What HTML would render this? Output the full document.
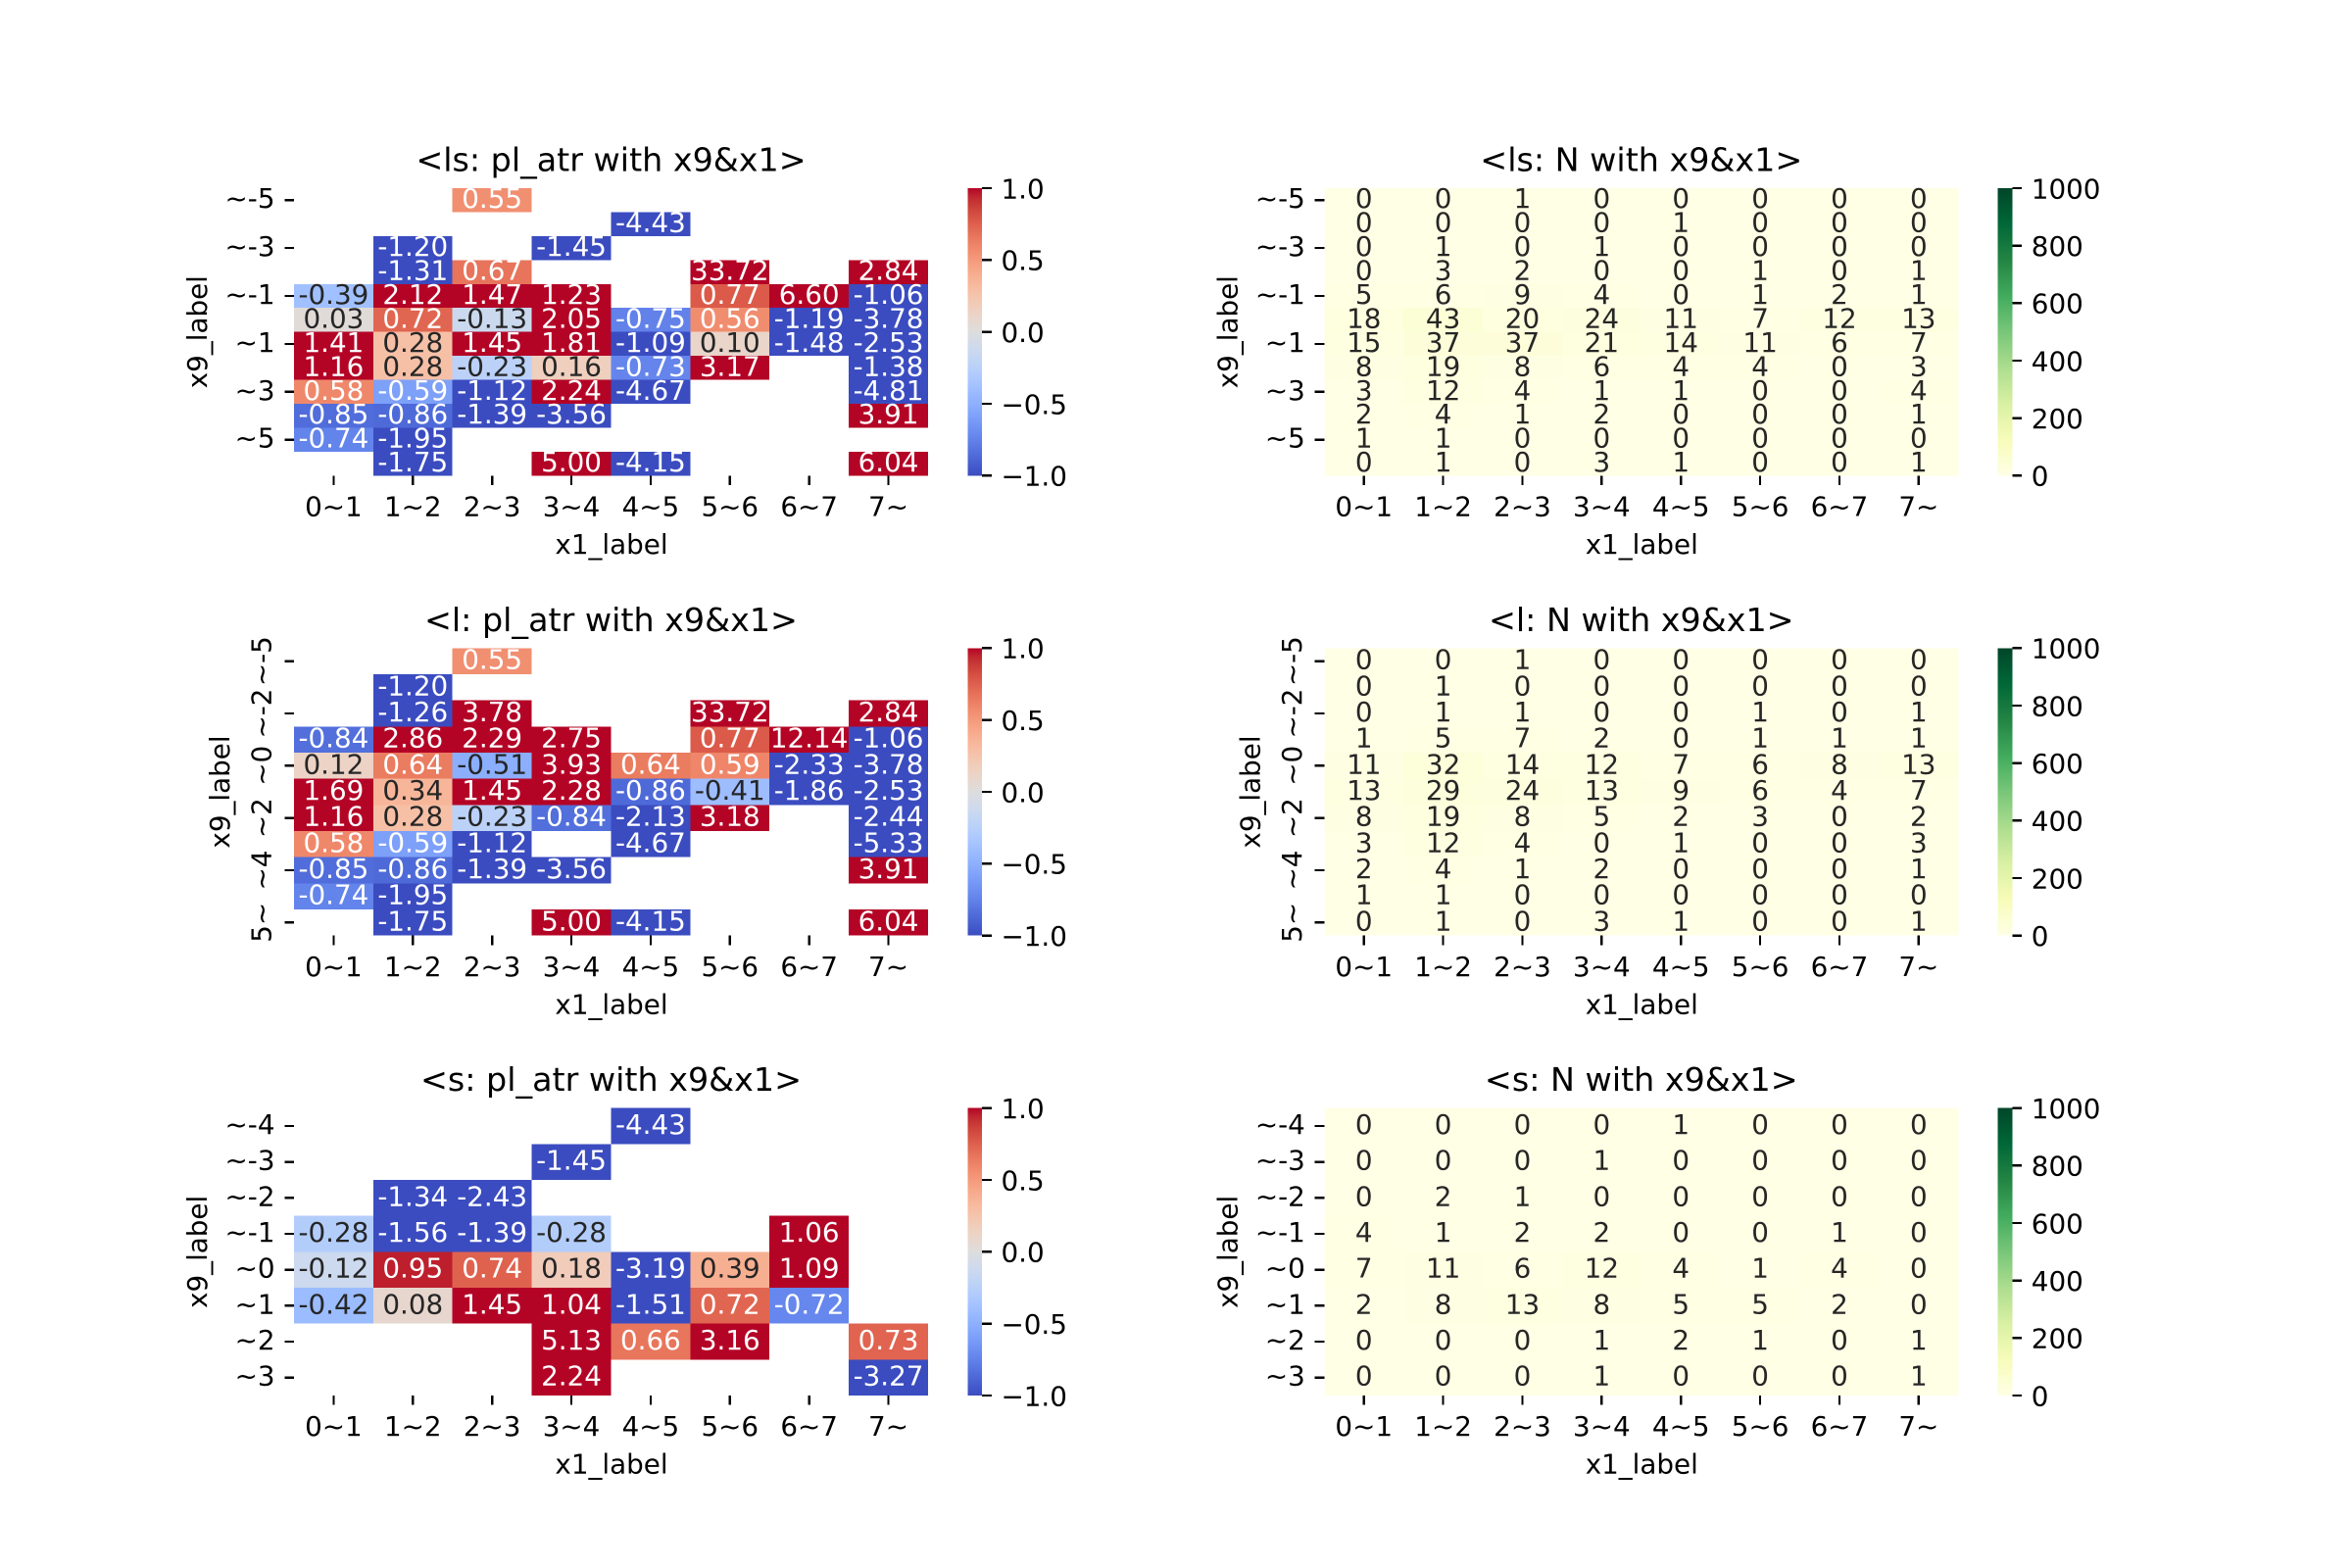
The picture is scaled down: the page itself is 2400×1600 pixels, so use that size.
<!DOCTYPE html>
<html lang="en">
<head>
<meta charset="utf-8">
<title>pl_atr and N heatmaps with x9 and x1</title>
<style>
html,body{margin:0;padding:0;background:#fff}
svg{display:block}
text{font-family:"DejaVu Sans","Liberation Sans",sans-serif}
</style>
</head>
<body>
<svg id="figure" xmlns="http://www.w3.org/2000/svg" width="2400" height="1600" viewBox="0 0 2400 1600">
<defs id="gradients"></defs>
<rect x="0" y="0" width="2400" height="1600" fill="#ffffff"/>
</svg>
<script>
// ---- categories and tick labels ----
const xCategories = ["0~1","1~2","2~3","3~4","4~5","5~6","6~7","7~"];
const yCategoriesLs = ["~-5","~-4","~-3","~-2","~-1","~0","~1","~2","~3","~4","~5","5~"];
const yCategoriesL = ["~-5","~-3","~-2","~-1","~0","~1","~2","~3","~4","~5","5~"];
const yCategoriesS = ["~-4","~-3","~-2","~-1","~0","~1","~2","~3"];
const atrTickValues = [-1,-0.5,0,0.5,1];
const atrTickLabels = ["\u22121.0","\u22120.5","0.0","0.5","1.0"];
const countTickValues = [0,200,400,600,800,1000];
const countTickLabels = ["0","200","400","600","800","1000"];

// ---- series values ----
const _ = null;
const atrLs = [
[_,_,0.55,_,_,_,_,_],
[_,_,_,_,-4.43,_,_,_],
[_,-1.20,_,-1.45,_,_,_,_],
[_,-1.31,0.67,_,_,33.72,_,2.84],
[-0.39,2.12,1.47,1.23,_,0.77,6.60,-1.06],
[0.03,0.72,-0.13,2.05,-0.75,0.56,-1.19,-3.78],
[1.41,0.28,1.45,1.81,-1.09,0.10,-1.48,-2.53],
[1.16,0.28,-0.23,0.16,-0.73,3.17,_,-1.38],
[0.58,-0.59,-1.12,2.24,-4.67,_,_,-4.81],
[-0.85,-0.86,-1.39,-3.56,_,_,_,3.91],
[-0.74,-1.95,_,_,_,_,_,_],
[_,-1.75,_,5.00,-4.15,_,_,6.04]
];
const atrL = [
[_,_,0.55,_,_,_,_,_],
[_,-1.20,_,_,_,_,_,_],
[_,-1.26,3.78,_,_,33.72,_,2.84],
[-0.84,2.86,2.29,2.75,_,0.77,12.14,-1.06],
[0.12,0.64,-0.51,3.93,0.64,0.59,-2.33,-3.78],
[1.69,0.34,1.45,2.28,-0.86,-0.41,-1.86,-2.53],
[1.16,0.28,-0.23,-0.84,-2.13,3.18,_,-2.44],
[0.58,-0.59,-1.12,_,-4.67,_,_,-5.33],
[-0.85,-0.86,-1.39,-3.56,_,_,_,3.91],
[-0.74,-1.95,_,_,_,_,_,_],
[_,-1.75,_,5.00,-4.15,_,_,6.04]
];
const atrS = [
[_,_,_,_,-4.43,_,_,_],
[_,_,_,-1.45,_,_,_,_],
[_,-1.34,-2.43,_,_,_,_,_],
[-0.28,-1.56,-1.39,-0.28,_,_,1.06,_],
[-0.12,0.95,0.74,0.18,-3.19,0.39,1.09,_],
[-0.42,0.08,1.45,1.04,-1.51,0.72,-0.72,_],
[_,_,_,5.13,0.66,3.16,_,0.73],
[_,_,_,2.24,_,_,_,-3.27]
];
const countLs = [
[0,0,1,0,0,0,0,0],
[0,0,0,0,1,0,0,0],
[0,1,0,1,0,0,0,0],
[0,3,2,0,0,1,0,1],
[5,6,9,4,0,1,2,1],
[18,43,20,24,11,7,12,13],
[15,37,37,21,14,11,6,7],
[8,19,8,6,4,4,0,3],
[3,12,4,1,1,0,0,4],
[2,4,1,2,0,0,0,1],
[1,1,0,0,0,0,0,0],
[0,1,0,3,1,0,0,1]
];
const countL = [
[0,0,1,0,0,0,0,0],
[0,1,0,0,0,0,0,0],
[0,1,1,0,0,1,0,1],
[1,5,7,2,0,1,1,1],
[11,32,14,12,7,6,8,13],
[13,29,24,13,9,6,4,7],
[8,19,8,5,2,3,0,2],
[3,12,4,0,1,0,0,3],
[2,4,1,2,0,0,0,1],
[1,1,0,0,0,0,0,0],
[0,1,0,3,1,0,0,1]
];
const countS = [
[0,0,0,0,1,0,0,0],
[0,0,0,1,0,0,0,0],
[0,2,1,0,0,0,0,0],
[4,1,2,2,0,0,1,0],
[7,11,6,12,4,1,4,0],
[2,8,13,8,5,5,2,0],
[0,0,0,1,2,1,0,1],
[0,0,0,1,0,0,0,1]
];

// ---- colour maps ----
const coolwarmStops = [[59,76,192],[68,90,204],[77,104,215],[87,117,225],[98,130,234],[108,142,241],[119,154,247],[130,165,251],[141,176,254],[152,185,255],[163,194,255],[174,201,253],[184,208,249],[194,213,244],[204,217,238],[213,219,230],[221,221,221],[229,216,209],[236,211,197],[241,204,185],[245,196,173],[247,187,160],[247,177,148],[247,166,135],[244,154,123],[241,141,111],[236,127,99],[229,112,88],[222,96,77],[213,80,66],[203,62,56],[192,40,47],[180,4,38]];
const ylgnStops = [[255,255,229],[247,252,185],[217,240,163],[173,221,142],[120,198,121],[65,171,93],[35,132,67],[0,104,55],[0,69,41]];

function sampleMap(stops, t){
  t = Math.max(0, Math.min(1, t));
  const idx = Math.min(255, Math.floor(t * 256));
  const p = idx / 255 * (stops.length - 1);
  const i = Math.min(stops.length - 2, Math.floor(p));
  const f = p - i;
  return [0,1,2].map(k => stops[i][k] + (stops[i+1][k] - stops[i][k]) * f);
}
function rgb(c){ return 'rgb(' + c.map(v => Math.round(v)).join(',') + ')'; }
function luminance(c){
  const l = c.map(v => { v /= 255; return v <= 0.03928 ? v / 12.92 : Math.pow((v + 0.055) / 1.055, 2.4); });
  return 0.2126 * l[0] + 0.7152 * l[1] + 0.0722 * l[2];
}

// ---- panels ----
const panels = [
 {name:'ls-pl-atr', title:'<ls: pl_atr with x9&x1>', col:0, row:0, data:atrLs, yCats:yCategoriesLs, step:2, vmin:-1, vmax:1, stops:coolwarmStops, ticks:atrTickValues, tickLabels:atrTickLabels, digits:2, vertical:false},
 {name:'ls-n', title:'<ls: N with x9&x1>', col:1, row:0, data:countLs, yCats:yCategoriesLs, step:2, vmin:0, vmax:1000, stops:ylgnStops, ticks:countTickValues, tickLabels:countTickLabels, digits:0, vertical:false},
 {name:'l-pl-atr', title:'<l: pl_atr with x9&x1>', col:0, row:1, data:atrL, yCats:yCategoriesL, step:2, vmin:-1, vmax:1, stops:coolwarmStops, ticks:atrTickValues, tickLabels:atrTickLabels, digits:2, vertical:true},
 {name:'l-n', title:'<l: N with x9&x1>', col:1, row:1, data:countL, yCats:yCategoriesL, step:2, vmin:0, vmax:1000, stops:ylgnStops, ticks:countTickValues, tickLabels:countTickLabels, digits:0, vertical:true},
 {name:'s-pl-atr', title:'<s: pl_atr with x9&x1>', col:0, row:2, data:atrS, yCats:yCategoriesS, step:1, vmin:-1, vmax:1, stops:coolwarmStops, ticks:atrTickValues, tickLabels:atrTickLabels, digits:2, vertical:false},
 {name:'s-n', title:'<s: N with x9&x1>', col:1, row:2, data:countS, yCats:yCategoriesS, step:1, vmin:0, vmax:1000, stops:ylgnStops, ticks:countTickValues, tickLabels:countTickLabels, digits:0, vertical:false}
];

// ---- drawing ----
const NS = 'http://www.w3.org/2000/svg';
const svg = document.getElementById('figure');
const defs = document.getElementById('gradients');
const FS = 27.78, TFS = 33.33, TICK = 9.72, TW = 2.22;

function make(tag, parent, name, props){
  const el = document.createElementNS(NS, tag);
  
  
  for (const k in props) el.setAttribute(k, props[k]);
  parent.appendChild(el);
  return el;
}
function label(parent, name, x, y, str, size, anchor, fill, rotate){
  const props = {x:x, y:y, 'font-size':size, 'text-anchor':anchor, fill:fill};
  if (rotate) props.transform = 'rotate(-90 ' + x + ' ' + y + ')';
  const el = make('text', parent, name, props);
  el.textContent = str;
  return el;
}
function tickLine(parent, name, x1, y1, x2, y2){
  return make('line', parent, name, {x1:x1, y1:y1, x2:x2, y2:y2, stroke:'#000', 'stroke-width':TW, 'shape-rendering':'crispEdges'});
}

panels.forEach(p => {
  const fullW = 1860 / 2.3, hmW = fullW * 0.8, H = 1232 / 4.2;
  const left = 300 + p.col * fullW * 1.3, top = 192 + p.row * H * 1.6;
  const bottom = top + H, right = left + hmW, cx = (left + right) / 2;
  const xScale = i => left + i * hmW / xCategories.length;
  const yScale = r => top + r * H / p.data.length;
  const group = make('g', svg, p.name + '-panel', {});

  p.data.forEach((rowVals, r) => rowVals.forEach((v, c) => {
    if (v === null) return;
    const t = (v - p.vmin) / (p.vmax - p.vmin);
    const col = sampleMap(p.stops, t);
    make('rect', group, p.name + '-cell', {x:xScale(c), y:yScale(r), width:xScale(c+1)-xScale(c), height:yScale(r+1)-yScale(r), fill:rgb(col), 'shape-rendering':'crispEdges'});
  }));
  p.data.forEach((rowVals, r) => rowVals.forEach((v, c) => {
    if (v === null) return;
    const t = (v - p.vmin) / (p.vmax - p.vmin);
    const col = sampleMap(p.stops, t);
    label(group, p.name + '-cell-value', (xScale(c)+xScale(c+1))/2, (yScale(r)+yScale(r+1))/2 + 8, v.toFixed(p.digits), FS, 'middle', luminance(col) < 0.408 ? '#ffffff' : '#262626', false);
  }));

  xCategories.forEach((cat, i) => {
    const x = (xScale(i) + xScale(i+1)) / 2;
    tickLine(group, 'x-tick', x, bottom, x, bottom + TICK);
    label(group, 'x-tick-label', x, bottom + 41.2, cat, FS, 'middle', '#000000', false);
  });
  p.yCats.forEach((cat, i) => {
    if (i % p.step !== 0) return;
    const y = (yScale(i) + yScale(i+1)) / 2;
    tickLine(group, 'y-tick', left - TICK, y, left, y);
    if (p.vertical) label(group, 'y-tick-label', left - 23.5, y, cat, FS, 'middle', '#000000', true);
    else label(group, 'y-tick-label', left - 19.5, y + 8, cat, FS, 'end', '#000000', false);
  });

  label(group, 'chart-title', cx, top - 17.5, p.title, TFS, 'middle', '#000000', false);
  label(group, 'x-axis-title', cx + 0.5, bottom + 79.7, 'x1_label', FS, 'middle', '#000000', false);
  label(group, 'y-axis-title', left - (p.vertical ? 66 : 89), (top + bottom) / 2, 'x9_label', FS, 'middle', '#000000', true);

  const barX = right + fullW * 0.05, barW = H / 20;
  const barY = v => top + H * (1 - (v - p.vmin) / (p.vmax - p.vmin));
  const gradId = 'grad-' + p.name;
  const grad = make('linearGradient', defs, 'colorbar-gradient', {id:gradId, x1:0, y1:1, x2:0, y2:0});
  p.stops.forEach((s, i) => {
    make('stop', grad, 'colorbar-gradient-stop', {offset:i / (p.stops.length - 1), 'stop-color':rgb(s)});
  });
  make('rect', group, 'colorbar', {x:barX, y:top, width:barW, height:H, fill:'url(#' + gradId + ')', 'shape-rendering':'crispEdges'});
  p.ticks.forEach((v, i) => {
    const y = barY(v);
    tickLine(group, 'colorbar-tick', barX + barW, y, barX + barW + TICK, y);
    label(group, 'colorbar-tick-label', barX + barW + 19.44, y + 10.3, p.tickLabels[i], FS, 'start', '#000000', false);
  });
});
</script>
</body>
</html>
